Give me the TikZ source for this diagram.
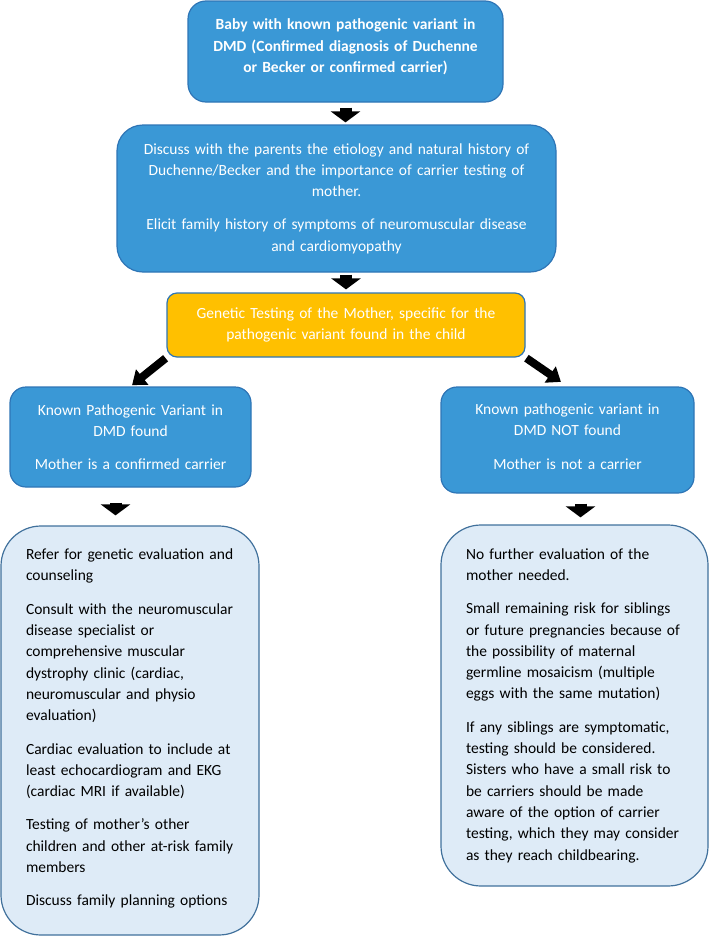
\documentclass[tikz,border=0pt]{standalone}
\usepackage{fontspec}
\setmainfont{Carlito}
\usetikzlibrary{arrows.meta}

\definecolor{boxblue}{RGB}{58,152,214}
\definecolor{edgeblue}{RGB}{46,117,182}
\definecolor{paleblue}{RGB}{222,235,247}
\definecolor{paleedge}{RGB}{65,113,156}
\definecolor{amber}{RGB}{255,192,0}

\begin{document}
\begin{tikzpicture}[
            x = 1pt, y = -1pt, % pixel units, y pointing down
            font = \fontsize{15.5}{21.3}\selectfont,
            bluebox/.style = {draw=edgeblue, fill=boxblue, text=white, line width=1.2pt,
                align=center, inner xsep=10pt, inner ysep=0pt},
            palebox/.style = {draw=paleedge, fill=paleblue, text=black, line width=1.2pt,
                align=left, inner xsep=25pt, inner ysep=0pt, rounded corners=40pt},
            down/.style = {line width=12pt, -{Triangle[length=11pt,width=29pt]}}, % block arrow
            slant/.style = {line width=8pt, -{Triangle[length=13pt,width=19pt]}}
        ]
\useasboundingbox (0,0) rectangle (709,937);

\node[bluebox, rounded corners=18pt, minimum width=315pt, minimum height=101pt, text width=295pt,
      font=\fontsize{15.5}{21.3}\selectfont\bfseries] (Baby) at (345.5,51.5)
      {Baby with known pathogenic variant in\\DMD (Confirmed diagnosis of Duchenne\\or Becker or confirmed carrier)\\[-10pt]\mbox{}};
\node[bluebox, rounded corners=26pt, minimum width=439pt, minimum height=147pt, text width=419pt] (Discuss) at (336.5,198.5)
      {Discuss with the parents the etiology and natural history of\\Duchenne/Becker and the importance of carrier testing of\\mother.\\[12pt]
       Elicit family history of symptoms of neuromuscular disease\\and cardiomyopathy};
\node[bluebox, fill=amber, rounded corners=10pt, minimum width=358pt, minimum height=64pt, text width=338pt] (Test) at (346,325)
      {Genetic Testing of the Mother, specific for the\\pathogenic variant found in the child};
\node[bluebox, rounded corners=16pt, minimum width=241pt, minimum height=100pt, text width=221pt] (Found) at (130.5,437)
      {Known Pathogenic Variant in\\DMD found\\[12pt]Mother is a confirmed carrier};
\node[bluebox, rounded corners=16pt, minimum width=253pt, minimum height=106pt, text width=233pt] (NotFound) at (567.5,440)
      {Known pathogenic variant in\\DMD NOT found\\[12pt]Mother is not a carrier\\[-14pt]\mbox{}};
\node[palebox, minimum width=258pt, minimum height=409pt, text width=208pt] (Carrier) at (130,730.5)
      {Refer for genetic evaluation and\\counseling\\[12pt]
       Consult with the neuromuscular\\disease specialist or\\comprehensive muscular\\dystrophy clinic (cardiac,\\neuromuscular and physio\\evaluation)\\[12pt]
       Cardiac evaluation to include at\\least echocardiogram and EKG\\(cardiac MRI if available)\\[12pt]
       Testing of mother’s other\\children and other at-risk family\\members\\[12pt]
       Discuss family planning options\\[-15pt]\mbox{}};
\node[palebox, minimum width=267pt, minimum height=361pt, text width=217pt] (NoCarrier) at (574.5,705.5)
      {No further evaluation of the\\mother needed.\\[12pt]
       Small remaining risk for siblings\\or future pregnancies because of\\the possibility of maternal\\germline mosaicism (multiple\\eggs with the same mutation)\\[12pt]
       If any siblings are symptomatic,\\testing should be considered.\\Sisters who have a small risk to\\be carriers should be made\\aware of the option of carrier\\testing, which they may consider\\as they reach childbearing.};

 \path [down, shorten <=5pt, shorten >=2pt] (Baby.south) edge (Baby.south |- Discuss.north);
 \path [down, shorten <=2pt, shorten >=3pt] (Discuss.south -| Test.north) edge (Test.north);
 \path [slant, shorten <=1pt, shorten >=2pt] (Test.south west) edge (Found.north);
 \path [slant, shorten <=1pt, shorten >=8pt] (Test.south east) edge (NotFound.north);
 \path [down, shorten <=15pt, shorten >=10pt] ([xshift=-15pt]Found.south) edge ([xshift=-15pt]Found.south |- Carrier.north);
 \path [down, shorten <=10pt, shorten >=7pt] ([xshift=13pt]NotFound.south) edge ([xshift=13pt]NotFound.south |- NoCarrier.north);
\end{tikzpicture}
\end{document}
